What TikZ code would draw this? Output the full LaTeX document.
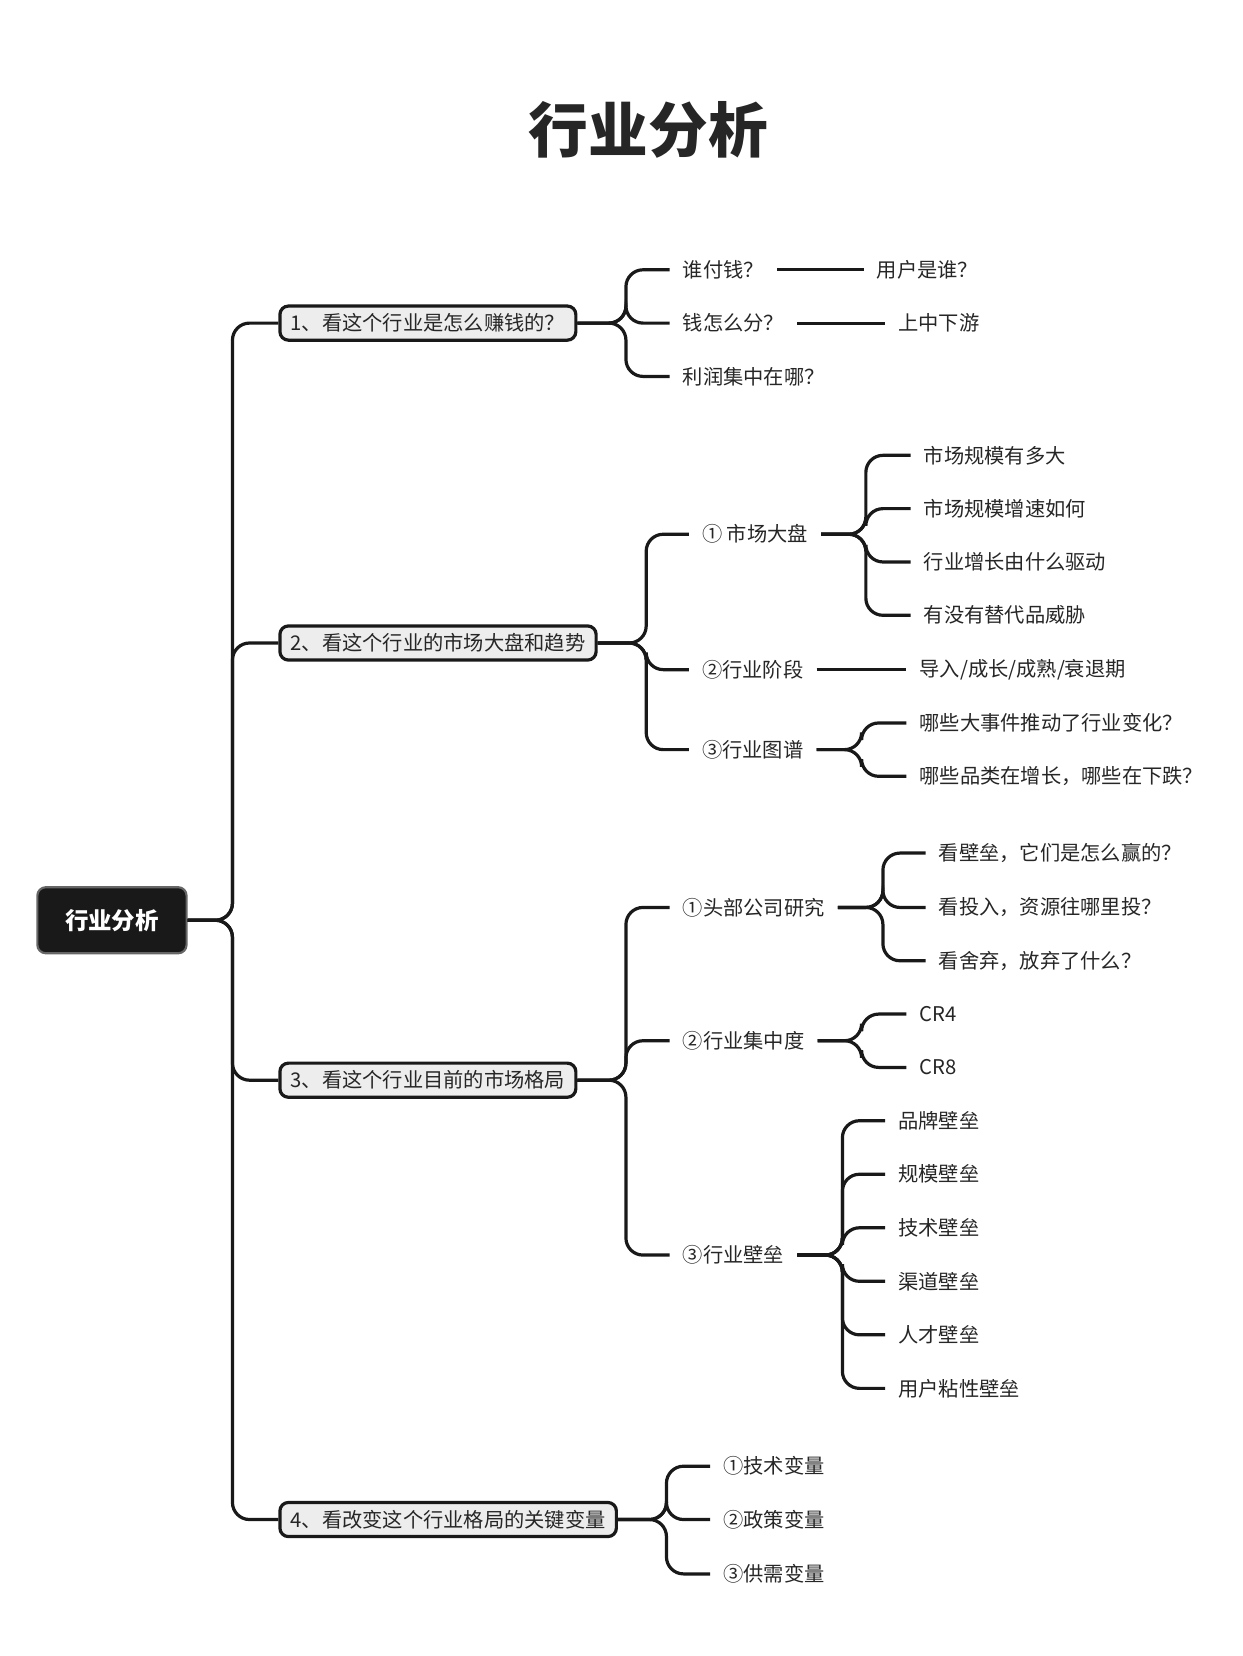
\documentclass[tikz,border=0pt]{standalone}
\usepackage{fontspec}
\setmainfont{Noto Sans CJK SC}
\tikzset{
    link/.style={line width=1.5pt,rounded corners=8pt,color=black!90},
    root/.style={fill=black!90,draw=black!60,line width=1pt,rounded corners=4pt,
        minimum width=70pt,minimum height=31pt,text=white,
        font=\fontsize{11}{13}\selectfont\bfseries},
    topic/.style={fill=black!7,draw=black!90,line width=1.5pt,rounded corners=4pt,
        minimum height=16pt,inner xsep=5pt,anchor=west,
        font=\fontsize{9.5}{11}\selectfont,text=black!85},
    leaf/.style={anchor=west,inner xsep=6pt,inner ysep=2pt,
        font=\fontsize{9.5}{11}\selectfont,text=black!85}
}
\newcommand{\branch}[3]{\draw[link] (#1.east) -- (#2,0 |- #1.east) |- (#3.west);}
\begin{document}
\begin{tikzpicture}[x=0.5pt,y=-0.5pt]
    \useasboundingbox (0,0) rectangle (1165,1553);
    \node[font=\fontsize{28}{32}\selectfont\bfseries,text=black!85] (title) at (608,122) {行业分析};
    \node[root] (root) at (105,863) {行业分析};
    %
    \node[topic] (t1) at (261,303) {1、看这个行业是怎么赚钱的？};
    \node[topic] (t2) at (261,603) {2、看这个行业的市场大盘和趋势};
    \node[topic] (t3) at (261,1013) {3、看这个行业目前的市场格局};
    \node[topic] (t4) at (261,1425) {4、看改变这个行业格局的关键变量};
    \foreach \t in {t1,t2,t3,t4} {\branch{root}{218}{\t}}
    %
    \node[leaf] (t1a) at (628,253) {谁付钱？};
    \node[leaf] (t1b) at (628,303) {钱怎么分？};
    \node[leaf] (t1c) at (628,353) {利润集中在哪？};
    \foreach \c in {t1a,t1b,t1c} {\branch{t1}{587}{\c}}
    \node[leaf] (t1a1) at (810,253) {用户是谁？};
    \node[leaf] (t1b1) at (830,303) {上中下游};
    \draw[link] (t1a) -- (t1a1);
    \draw[link] (t1b) -- (t1b1);
    %
    \node[leaf] (t2a) at (646,501) {① 市场大盘};
    \node[leaf] (t2b) at (646,628) {②行业阶段};
    \node[leaf] (t2c) at (646,703) {③行业图谱};
    \foreach \c in {t2a,t2b,t2c} {\branch{t2}{606}{\c}}
    \node[leaf] (t2a1) at (854,427) {市场规模有多大};
    \node[leaf] (t2a2) at (854,477) {市场规模增速如何};
    \node[leaf] (t2a3) at (854,527) {行业增长由什么驱动};
    \node[leaf] (t2a4) at (854,577) {有没有替代品威胁};
    \foreach \c in {t2a1,t2a2,t2a3,t2a4} {\branch{t2a}{812}{\c}}
    \node[leaf] (t2b1) at (850,628) {导入/成长/成熟/衰退期};
    \draw[link] (t2b) -- (t2b1);
    \node[leaf] (t2c1) at (850,678) {哪些大事件推动了行业变化？};
    \node[leaf] (t2c2) at (850,728) {哪些品类在增长，哪些在下跌？};
    \foreach \c in {t2c1,t2c2} {\branch{t2c}{808}{\c}}
    %
    \node[leaf] (t3a) at (628,851) {①头部公司研究};
    \node[leaf] (t3b) at (628,976) {②行业集中度};
    \node[leaf] (t3c) at (628,1177) {③行业壁垒};
    \foreach \c in {t3a,t3b,t3c} {\branch{t3}{587}{\c}}
    \node[leaf] (t3a1) at (868,800) {看壁垒，它们是怎么赢的？};
    \node[leaf] (t3a2) at (868,851) {看投入，资源往哪里投？};
    \node[leaf] (t3a3) at (868,901) {看舍弃，放弃了什么？};
    \foreach \c in {t3a1,t3a2,t3a3} {\branch{t3a}{828}{\c}}
    \node[leaf] (t3b1) at (850,951) {CR4};
    \node[leaf] (t3b2) at (850,1001) {CR8};
    \foreach \c in {t3b1,t3b2} {\branch{t3b}{808}{\c}}
    \foreach \n/\txt [count=\i from 0] in {1/品牌壁垒,2/规模壁垒,3/技术壁垒,4/渠道壁垒,5/人才壁垒,6/用户粘性壁垒} {
        \node[leaf] (t3c\n) at (830,1051+50.2*\i) {\txt};
        \branch{t3c}{790}{t3c\n}
    }
    %
    \node[leaf] (t4a) at (666,1375) {①技术变量};
    \node[leaf] (t4b) at (666,1425) {②政策变量};
    \node[leaf] (t4c) at (666,1476) {③供需变量};
    \foreach \c in {t4a,t4b,t4c} {\branch{t4}{625}{\c}}
\end{tikzpicture}
\end{document}
